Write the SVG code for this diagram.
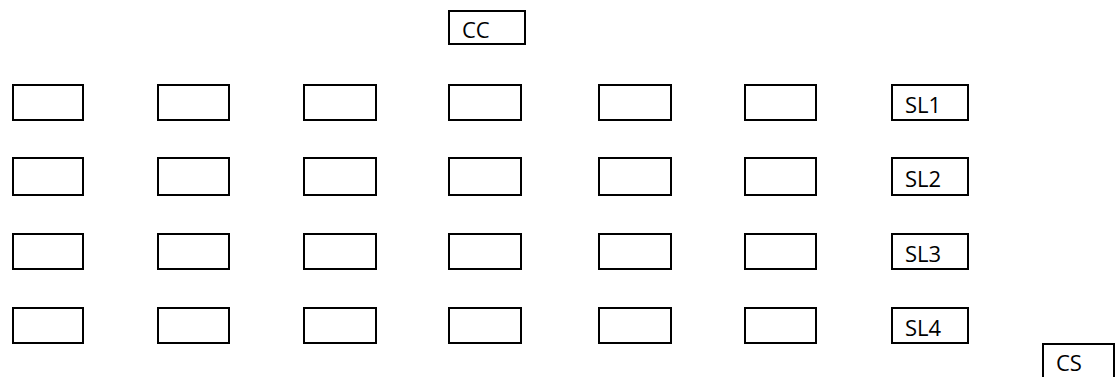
<svg xmlns="http://www.w3.org/2000/svg" width="1118" height="377" viewBox="0 0 1118 377">
<style>
rect.b{fill:#fff;stroke:#000;stroke-width:2}
text{font-family:"Open Sans","Liberation Sans",sans-serif;font-size:22px;fill:#000}
</style>
<rect width="1118" height="377" fill="#fff"/>
<g id="cc"><rect class="b" x="449" y="11" width="76" height="33"/><text x="462" y="38">CC</text></g>
<g id="r1">
<rect class="b" x="13" y="85" width="70" height="35"/>
<rect class="b" x="158" y="85" width="71" height="35"/>
<rect class="b" x="304" y="85" width="72" height="35"/>
<rect class="b" x="449" y="85" width="72" height="35"/>
<rect class="b" x="599" y="85" width="72" height="35"/>
<rect class="b" x="745" y="85" width="71" height="35"/>
</g>
<g id="r2">
<rect class="b" x="13" y="158" width="70" height="37"/>
<rect class="b" x="158" y="158" width="71" height="37"/>
<rect class="b" x="304" y="158" width="72" height="37"/>
<rect class="b" x="449" y="158" width="72" height="37"/>
<rect class="b" x="599" y="158" width="72" height="37"/>
<rect class="b" x="745" y="158" width="71" height="37"/>
</g>
<g id="r3">
<rect class="b" x="13" y="234" width="70" height="35"/>
<rect class="b" x="158" y="234" width="71" height="35"/>
<rect class="b" x="304" y="234" width="72" height="35"/>
<rect class="b" x="449" y="234" width="72" height="35"/>
<rect class="b" x="599" y="234" width="72" height="35"/>
<rect class="b" x="745" y="234" width="71" height="35"/>
</g>
<g id="r4">
<rect class="b" x="13" y="308" width="70" height="35"/>
<rect class="b" x="158" y="308" width="71" height="35"/>
<rect class="b" x="304" y="308" width="72" height="35"/>
<rect class="b" x="449" y="308" width="72" height="35"/>
<rect class="b" x="599" y="308" width="72" height="35"/>
<rect class="b" x="745" y="308" width="71" height="35"/>
</g>
<g id="sl1"><rect class="b" x="892" y="85" width="76" height="35"/><text x="905" y="113">SL1</text></g>
<g id="sl2"><rect class="b" x="892" y="158" width="76" height="37"/><text x="905" y="187">SL2</text></g>
<g id="sl3"><rect class="b" x="892" y="234" width="76" height="35"/><text x="905" y="262">SL3</text></g>
<g id="sl4"><rect class="b" x="892" y="308" width="76" height="35"/><text x="905" y="336">SL4</text></g>
<g id="cs"><rect class="b" x="1043" y="344" width="71" height="40"/><text x="1056" y="371">CS</text></g>
<g id="connectors"/>
</svg>
